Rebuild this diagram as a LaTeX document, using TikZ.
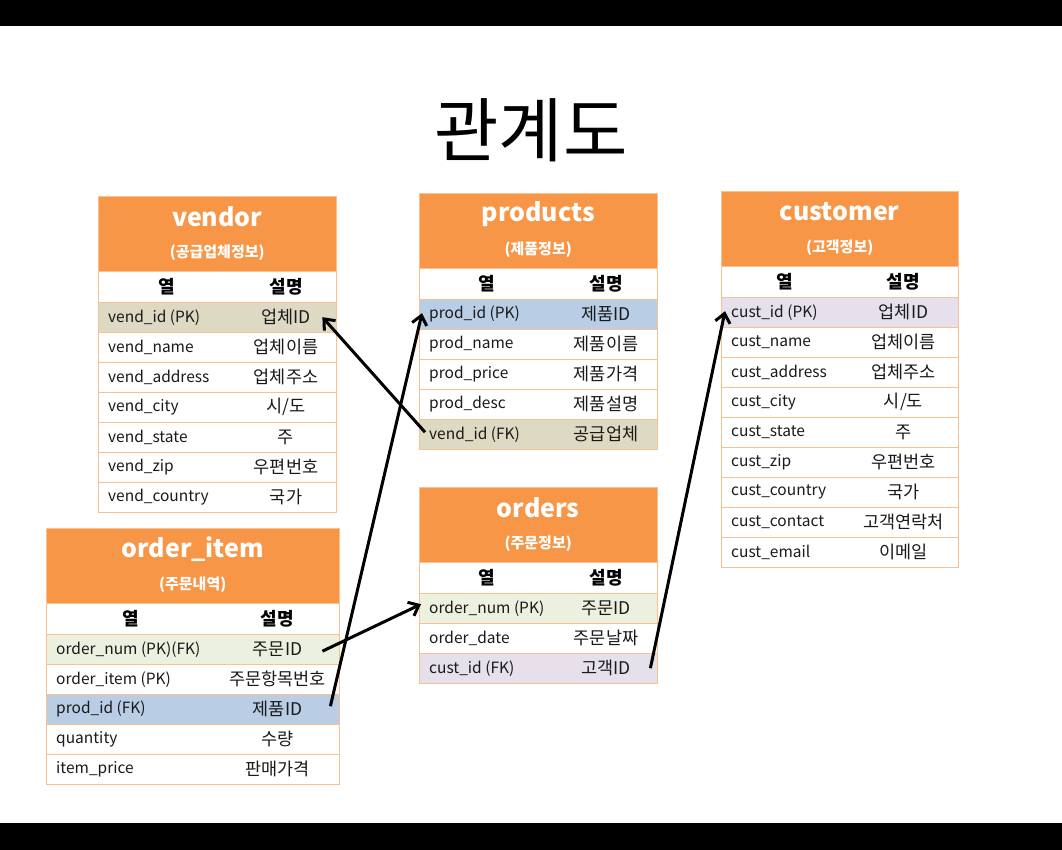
\documentclass[tikz,border=0pt]{standalone}
\usepackage{fontspec}
\setmainfont{Noto Sans CJK KR}
\usepackage{tikz}
\usetikzlibrary{arrows.meta,positioning}
\definecolor{headorange}{HTML}{F79646}
\definecolor{gridorange}{HTML}{FAC090}
\definecolor{vendtan}{HTML}{DDD9C3}
\definecolor{prodblue}{HTML}{B9CDE5}
\definecolor{ordergreen}{HTML}{EBF1DE}
\definecolor{custlilac}{HTML}{E5E0EC}
\definecolor{celltext}{HTML}{1A1A1A}

\tikzset{
  headbox/.style={draw=gridorange, fill=headorange, minimum height=75pt, inner sep=0pt, anchor=north west},
  colbox/.style={draw=gridorange, fill=white, minimum height=31pt, inner sep=0pt, anchor=north west},
  rowbox/.style={draw=gridorange, minimum height=30pt, inner sep=0pt, anchor=north west},
  tabletitle/.style={font=\fontsize{25}{28}\selectfont\bfseries, text=white, inner sep=0pt},
  tablesub/.style={font=\fontsize{15}{18}\selectfont\bfseries, text=white, inner sep=0pt},
  colname/.style={font=\fontsize{18}{21}\selectfont\bfseries, inner sep=0pt},
  cell/.style={font=\fontsize{15.5}{18}\selectfont, text=celltext, inner sep=0pt},
  desccell/.style={font=\fontsize{17.5}{20}\selectfont, text=celltext, inner sep=0pt},
  fkarrow/.style={-{Straight Barb[length=9pt,width=15pt]}, line width=3pt, black},
}

% table: name, left, top, width, first column width, title, subtitle, rows
\newcommand{\dbtable}[8]{%
  \node[headbox, minimum width=#4pt] (#1-head) at (#2,#3) {};
  \node[tabletitle] (#1-title) at ([yshift=-21pt]#1-head.north) {#6};
  \node[tablesub] (#1-sub) at ([yshift=-57pt]#1-head.north) {#7};
  \node[colbox, minimum width=#4pt] (#1-cols) at (#1-head.south west) {};
  \node[colname] (#1-colA) at ({#2+#5/2},{#3+90.5}) {열};
  \node[colname] (#1-colB) at ({#2+(#4+#5)/2},{#3+90.5}) {설명};
  \foreach \i/\fld/\dsc/\shd in {#8} {
    \node[rowbox, fill=\shd, minimum width=#4pt] (#1-\i) at ({#2},{#3+106+30*(\i-1)}) {};
    \node[cell, anchor=west] (#1-\i-name) at ([xshift=10pt]#1-\i.west) {\fld};
    \node[desccell] (#1-\i-desc) at ({#2+(#4+#5)/2},{#3+121+30*(\i-1)}) {\dsc};
  }%
}

\begin{document}
\begin{tikzpicture}[x=1pt, y=-1pt]
    \useasboundingbox (0,0) rectangle (1062,850);
    \fill[white] (0,0) rectangle (1062,850);
    % Black bars
    \fill[black] (0,0) rectangle (1062,26);
    \fill[black] (0,823) rectangle (1062,850);

    % Title
    \node[font=\fontsize{70}{76}\selectfont] (diagram-title) at (531,130) {관계도};

    % === vendor ===
    \dbtable{vendor}{98}{196}{238}{138}{vendor}{(공급업체정보)}{1/vend\_id (PK)/업체ID/vendtan,
      2/vend\_name/업체이름/white, 3/vend\_address/업체주소/white, 4/vend\_city/{시/도}/white,
      5/vend\_state/주/white, 6/vend\_zip/우편번호/white, 7/vend\_country/국가/white}

    % === products ===
    \dbtable{products}{419}{193}{238}{136}{products}{(제품정보)}{1/prod\_id (PK)/제품ID/prodblue,
      2/prod\_name/제품이름/white, 3/prod\_price/제품가격/white, 4/prod\_desc/제품설명/white,
      5/vend\_id (FK)/공급업체/vendtan}

    % === customer ===
    \dbtable{customer}{721}{191}{237}{128}{customer}{(고객정보)}{1/cust\_id (PK)/업체ID/custlilac,
      2/cust\_name/업체이름/white, 3/cust\_address/업체주소/white, 4/cust\_city/{시/도}/white,
      5/cust\_state/주/white, 6/cust\_zip/우편번호/white, 7/cust\_country/국가/white,
      8/cust\_contact/고객연락처/white, 9/cust\_email/이메일/white}

    % === order_item ===
    \dbtable{item}{46}{528}{293}{170}{order\_item}{(주문내역)}{1/order\_num (PK)(FK)/주문ID/ordergreen,
      2/order\_item (PK)/주문항목번호/white, 3/prod\_id (FK)/제품ID/prodblue,
      4/quantity/수량/white, 5/item\_price/판매가격/white}

    % === orders ===
    \dbtable{orders}{419}{487}{238}{136}{orders}{(주문정보)}{1/order\_num (PK)/주문ID/ordergreen,
      2/order\_date/주문날짜/white, 3/cust\_id (FK)/고객ID/custlilac}

    % Foreign keys
    \draw[fkarrow] ([xshift=6pt,yshift=2pt]products-5.west) -- ([xshift=-14pt]vendor-1.east);
    \draw[fkarrow] ([xshift=-9pt,yshift=3pt]item-3.east) -- ([xshift=3pt,yshift=1pt]products-1.west);
    \draw[fkarrow] ([xshift=-17pt,yshift=-2pt]item-1.east) -- ([xshift=2pt,yshift=4pt]orders-1.west);
    \draw[fkarrow] ([xshift=-7pt]orders-3.east) -- ([xshift=4pt,yshift=1pt]customer-1.west);
\end{tikzpicture}
\end{document}
